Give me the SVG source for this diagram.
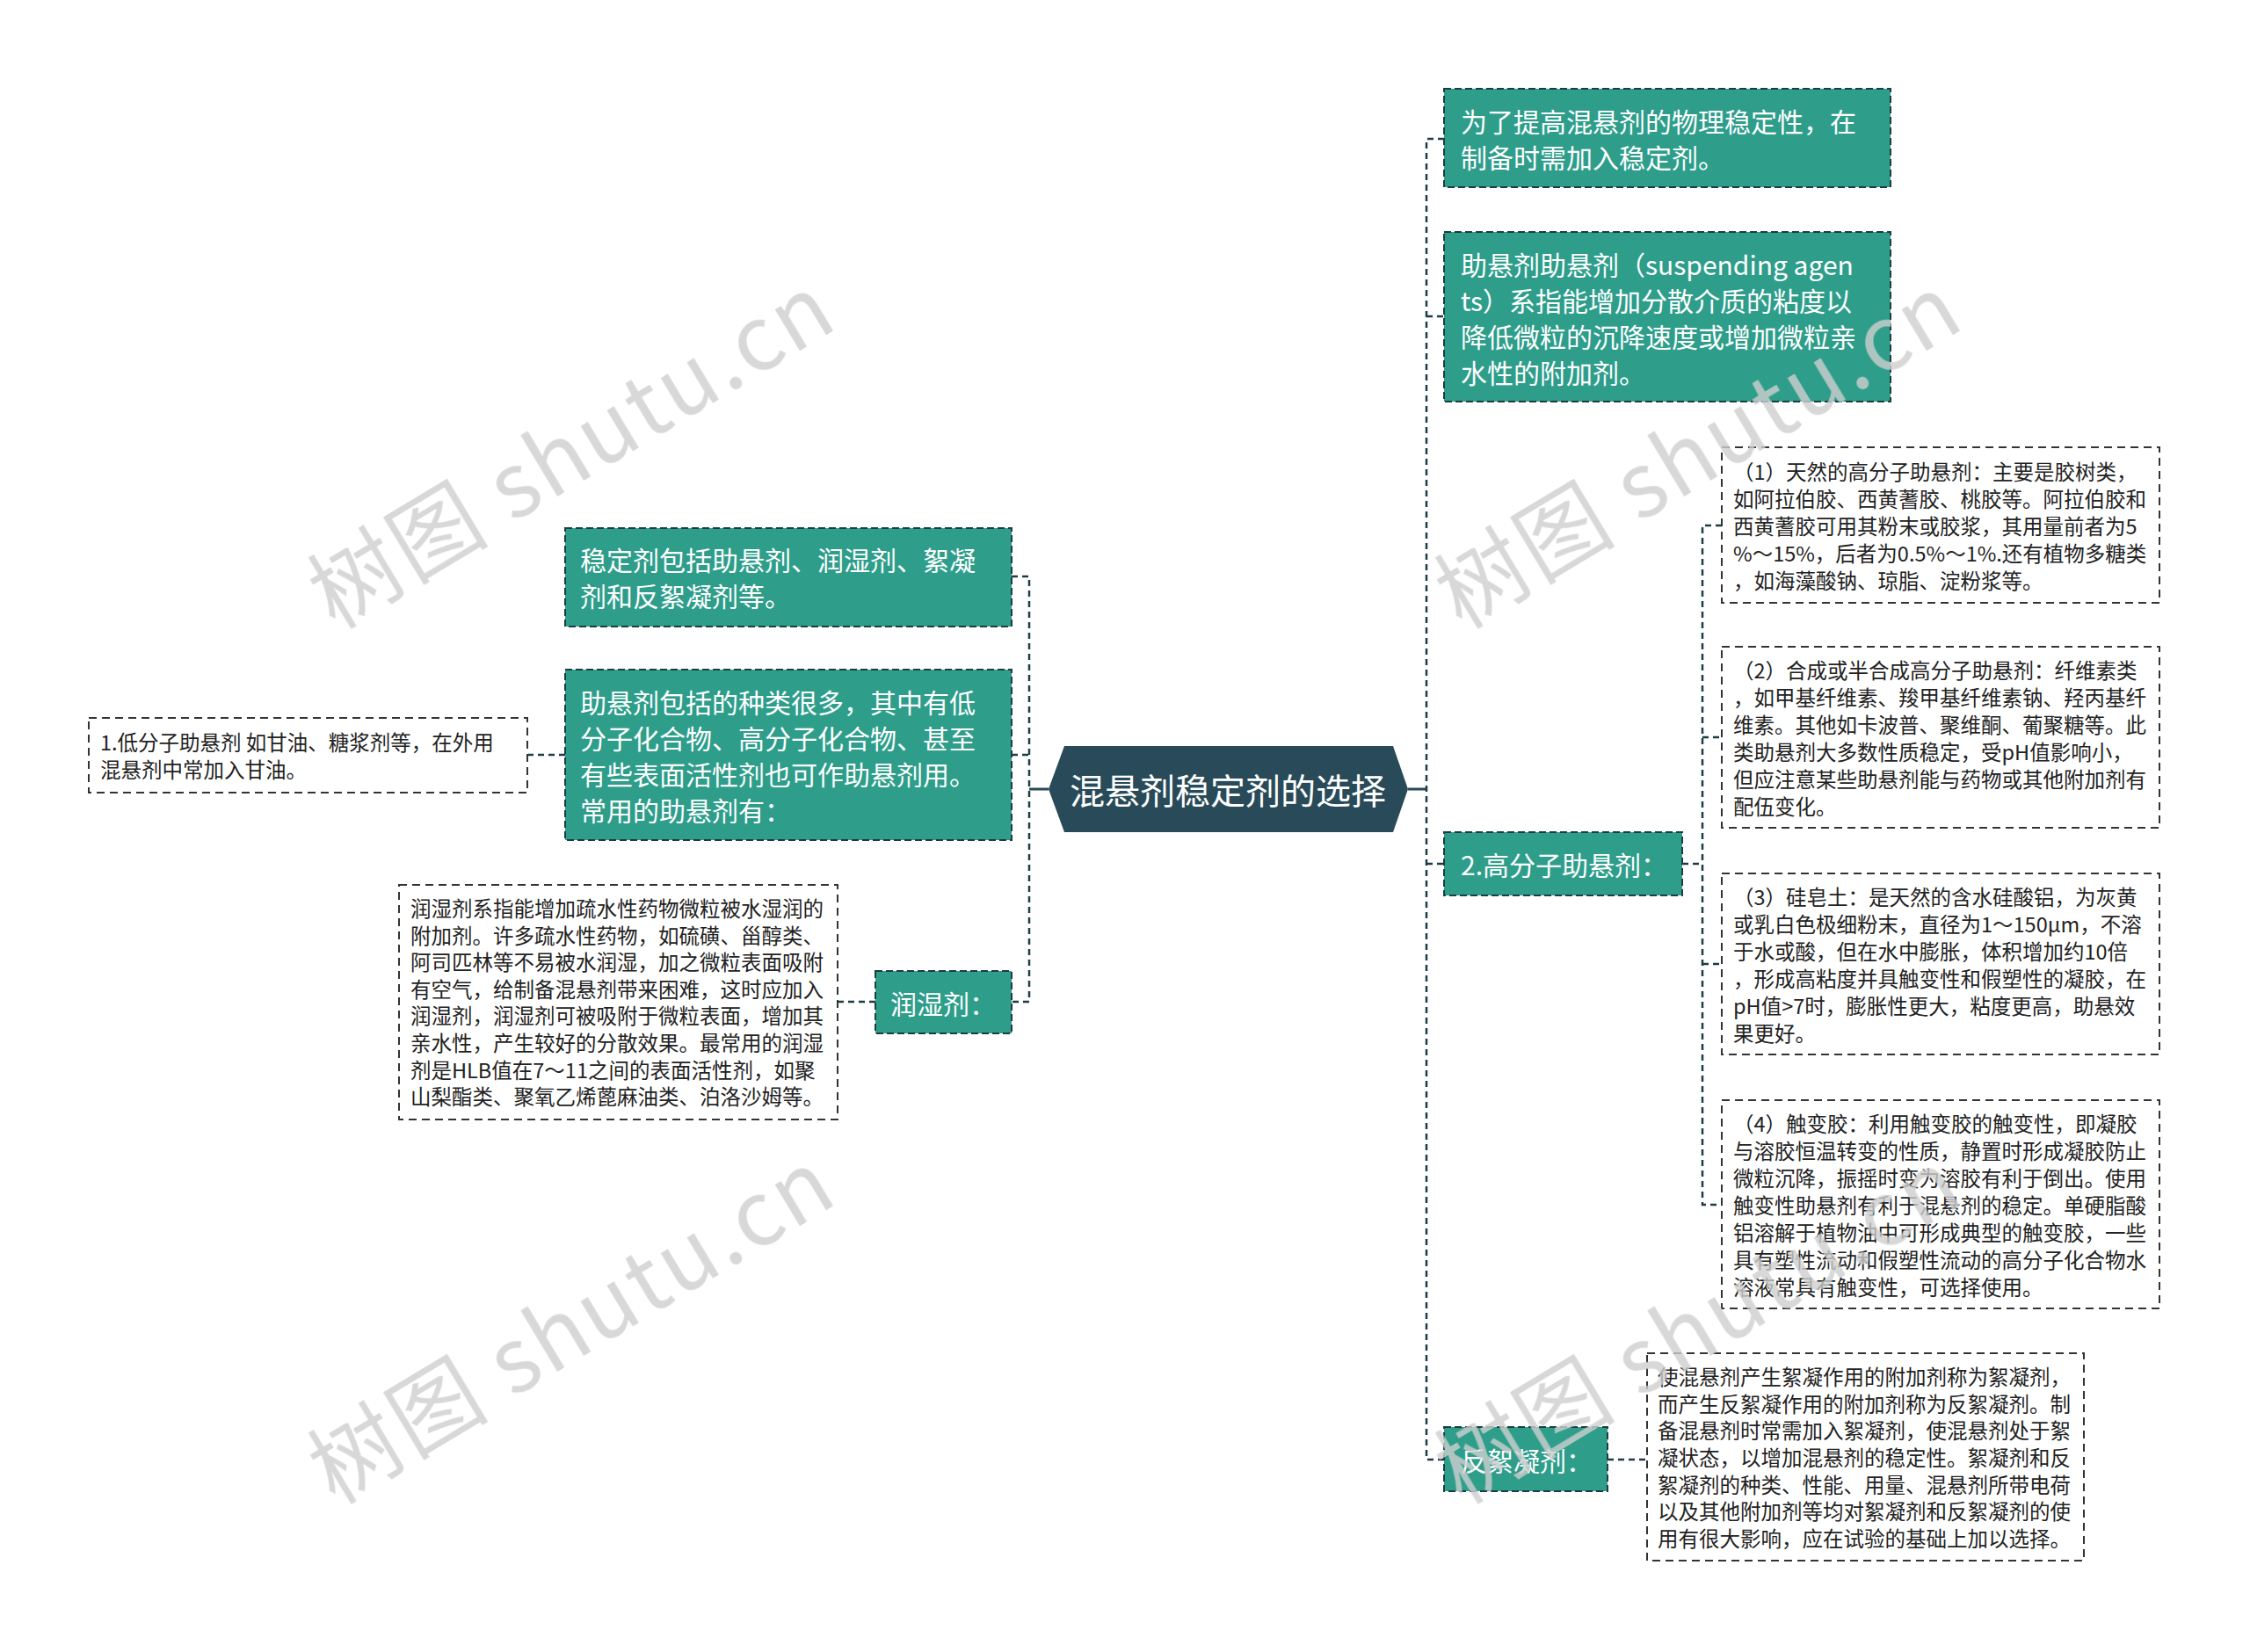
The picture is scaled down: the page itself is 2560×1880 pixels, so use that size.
<svg xmlns="http://www.w3.org/2000/svg" width="2560" height="1880" viewBox="0 0 2560 1880">
<style>
text{font-family:"Noto Sans CJK SC","Noto Sans",sans-serif;dominant-baseline:central}
.teal{fill:#2e9e8b;stroke:#1d3c44;stroke-width:2;stroke-dasharray:8 4}
.note{fill:#fff;stroke:#333;stroke-width:2;stroke-dasharray:9 6}
.tw{fill:#fff;font-size:30px}
.tb{fill:#222;font-size:23.5px}
.conn{fill:none;stroke:#1d3c44;stroke-width:2.5;stroke-dasharray:7 5}
.solid{fill:none;stroke:#284b58;stroke-width:3}
.wm{fill:#cfcfcf;opacity:0.8;font-size:102px;font-family:"Liberation Serif","Noto Serif CJK SC","Noto Sans CJK SC",serif}
</style>
<rect width="2560" height="1880" fill="#fff"/>
<g id="connectors">
<path class="solid" d="M1193 898H1171"/>
<path class="solid" d="M1602 898H1623"/>
<path class="conn" d="M1151 656H1171V1140H1151"/>
<path class="conn" d="M1151 859H1171"/>
<path class="conn" d="M643 859H601"/>
<path class="conn" d="M996 1140H953"/>
<path class="conn" d="M1643 158H1623V1661H1643"/>
<path class="conn" d="M1623 360H1643"/>
<path class="conn" d="M1623 983H1643"/>
<path class="conn" d="M1914 983H1937"/>
<path class="conn" d="M1959 598H1937V1371H1959"/>
<path class="conn" d="M1937 839H1959"/>
<path class="conn" d="M1937 1097H1959"/>
<path class="conn" d="M1829 1661H1874"/>
</g>
<g id="root">
<polygon points="1193,898 1211,849 1585,849 1602,898 1585,947 1211,947" fill="#294b59"/>
<text x="1397" y="898" text-anchor="middle" fill="#fff" font-size="40">混悬剂稳定剂的选择</text>
</g>
<g id="r1">
<rect class="teal" x="1643" y="101" width="508" height="112"/>
<text class="tw"><tspan x="1662" y="137">为了提高混悬剂的物理稳定性，在</tspan><tspan x="1662" y="178">制备时需加入稳定剂。</tspan></text>
</g>
<g id="r2">
<rect class="teal" x="1643" y="264" width="508" height="193"/>
<text class="tw"><tspan x="1662" y="300">助悬剂助悬剂（suspending agen</tspan><tspan x="1662" y="341">ts）系指能增加分散介质的粘度以</tspan><tspan x="1662" y="382">降低微粒的沉降速度或增加微粒亲</tspan><tspan x="1662" y="423">水性的附加剂。</tspan></text>
</g>
<g id="r3">
<rect class="teal" x="1643" y="947" width="271" height="72"/>
<text class="tw" x="1662" y="983">2.高分子助悬剂：</text>
</g>
<g id="r3a">
<rect class="note" x="1959" y="509" width="498" height="177"/>
<text class="tb"><tspan x="1972" y="536">（1）天然的高分子助悬剂：主要是胶树类，</tspan><tspan x="1972" y="567">如阿拉伯胶、西黄蓍胶、桃胶等。阿拉伯胶和</tspan><tspan x="1972" y="598">西黄蓍胶可用其粉末或胶浆，其用量前者为5</tspan><tspan x="1972" y="629">%～15%，后者为0.5%～1%.还有植物多糖类</tspan><tspan x="1972" y="660">，如海藻酸钠、琼脂、淀粉浆等。</tspan></text>
</g>
<g id="r3b">
<rect class="note" x="1959" y="736" width="498" height="206"/>
<text class="tb"><tspan x="1972" y="762">（2）合成或半合成高分子助悬剂：纤维素类</tspan><tspan x="1972" y="793">，如甲基纤维素、羧甲基纤维素钠、羟丙基纤</tspan><tspan x="1972" y="824">维素。其他如卡波普、聚维酮、葡聚糖等。此</tspan><tspan x="1972" y="855">类助悬剂大多数性质稳定，受pH值影响小，</tspan><tspan x="1972" y="886">但应注意某些助悬剂能与药物或其他附加剂有</tspan><tspan x="1972" y="917">配伍变化。</tspan></text>
</g>
<g id="r3c">
<rect class="note" x="1959" y="994" width="498" height="206"/>
<text class="tb"><tspan x="1972" y="1020">（3）硅皂土：是天然的含水硅酸铝，为灰黄</tspan><tspan x="1972" y="1051">或乳白色极细粉末，直径为1～150μm，不溶</tspan><tspan x="1972" y="1082">于水或酸，但在水中膨胀，体积增加约10倍</tspan><tspan x="1972" y="1113">，形成高粘度并具触变性和假塑性的凝胶，在</tspan><tspan x="1972" y="1144">pH值&gt;7时，膨胀性更大，粘度更高，助悬效</tspan><tspan x="1972" y="1175">果更好。</tspan></text>
</g>
<g id="r3d">
<rect class="note" x="1959" y="1252" width="498" height="237"/>
<text class="tb"><tspan x="1972" y="1278">（4）触变胶：利用触变胶的触变性，即凝胶</tspan><tspan x="1972" y="1309">与溶胶恒温转变的性质，静置时形成凝胶防止</tspan><tspan x="1972" y="1340">微粒沉降，振摇时变为溶胶有利于倒出。使用</tspan><tspan x="1972" y="1371">触变性助悬剂有利于混悬剂的稳定。单硬脂酸</tspan><tspan x="1972" y="1402">铝溶解于植物油中可形成典型的触变胶，一些</tspan><tspan x="1972" y="1433">具有塑性流动和假塑性流动的高分子化合物水</tspan><tspan x="1972" y="1464">溶液常具有触变性，可选择使用。</tspan></text>
</g>
<g id="r4">
<rect class="teal" x="1643" y="1624" width="186" height="73"/>
<text class="tw" x="1662" y="1661">反絮凝剂：</text>
</g>
<g id="r4a">
<rect class="note" x="1874" y="1540" width="497" height="236"/>
<text class="tb"><tspan x="1886" y="1566">使混悬剂产生絮凝作用的附加剂称为絮凝剂，</tspan><tspan x="1886" y="1597">而产生反絮凝作用的附加剂称为反絮凝剂。制</tspan><tspan x="1886" y="1627">备混悬剂时常需加入絮凝剂，使混悬剂处于絮</tspan><tspan x="1886" y="1658">凝状态，以增加混悬剂的稳定性。絮凝剂和反</tspan><tspan x="1886" y="1689">絮凝剂的种类、性能、用量、混悬剂所带电荷</tspan><tspan x="1886" y="1719">以及其他附加剂等均对絮凝剂和反絮凝剂的使</tspan><tspan x="1886" y="1750">用有很大影响，应在试验的基础上加以选择。</tspan></text>
</g>
<g id="l1">
<rect class="teal" x="643" y="601" width="508" height="112"/>
<text class="tw"><tspan x="660" y="636">稳定剂包括助悬剂、润湿剂、絮凝</tspan><tspan x="660" y="677">剂和反絮凝剂等。</tspan></text>
</g>
<g id="l2">
<rect class="teal" x="643" y="762" width="508" height="194"/>
<text class="tw"><tspan x="660" y="798">助悬剂包括的种类很多，其中有低</tspan><tspan x="660" y="839">分子化合物、高分子化合物、甚至</tspan><tspan x="660" y="880">有些表面活性剂也可作助悬剂用。</tspan><tspan x="660" y="921">常用的助悬剂有：</tspan></text>
</g>
<g id="l2a">
<rect class="note" x="101" y="817" width="499" height="85"/>
<text class="tb"><tspan x="114" y="844">1.低分子助悬剂 如甘油、糖浆剂等，在外用</tspan><tspan x="114" y="875">混悬剂中常加入甘油。</tspan></text>
</g>
<g id="l3">
<rect class="teal" x="996" y="1105" width="155" height="71"/>
<text class="tw" x="1013" y="1141">润湿剂：</text>
</g>
<g id="l3a">
<rect class="note" x="454" y="1007" width="499" height="267"/>
<text class="tb"><tspan x="467" y="1033">润湿剂系指能增加疏水性药物微粒被水湿润的</tspan><tspan x="467" y="1064">附加剂。许多疏水性药物，如硫磺、甾醇类、</tspan><tspan x="467" y="1094">阿司匹林等不易被水润湿，加之微粒表面吸附</tspan><tspan x="467" y="1125">有空气，给制备混悬剂带来困难，这时应加入</tspan><tspan x="467" y="1155">润湿剂，润湿剂可被吸附于微粒表面，增加其</tspan><tspan x="467" y="1186">亲水性，产生较好的分散效果。最常用的润湿</tspan><tspan x="467" y="1217">剂是HLB值在7～11之间的表面活性剂，如聚</tspan><tspan x="467" y="1247">山梨酯类、聚氧乙烯蓖麻油类、泊洛沙姆等。</tspan></text>
</g>
<g id="watermarks" class="wm">
<text transform="translate(645 506) rotate(-31)" text-anchor="middle" textLength="670" lengthAdjust="spacing">树图 shutu.cn</text>
<text transform="translate(645 1502) rotate(-31)" text-anchor="middle" textLength="670" lengthAdjust="spacing">树图 shutu.cn</text>
<text transform="translate(1927 506) rotate(-31)" text-anchor="middle" textLength="670" lengthAdjust="spacing">树图 shutu.cn</text>
<text transform="translate(1927 1502) rotate(-31)" text-anchor="middle" textLength="670" lengthAdjust="spacing">树图 shutu.cn</text>
</g>
</svg>
